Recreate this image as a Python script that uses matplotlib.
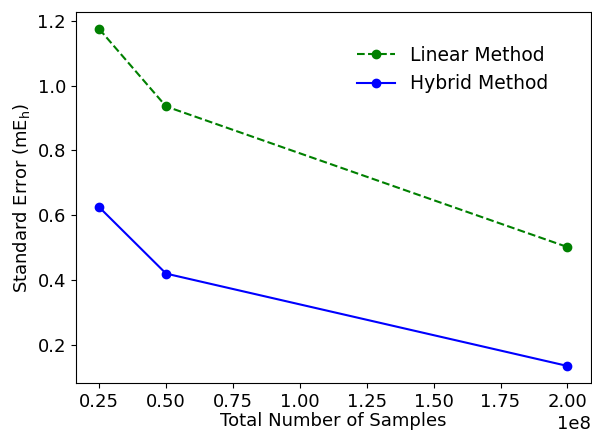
import matplotlib
matplotlib.use("Agg")
import matplotlib.pyplot as plt

samples = [0.25e8, 0.5e8, 2.0e8]
linear_err = [1.175, 0.936, 0.502]
hybrid_err = [0.625, 0.420, 0.135]

plt.rcParams['font.size'] = 13
fig = plt.figure(figsize=(5.92, 4.34), dpi=100)
ax = fig.add_axes([0.128, 0.118, 0.870, 0.854])
ax.plot(samples, linear_err, 'o--', color='green', label='Linear Method')
ax.plot(samples, hybrid_err, 'o-', color='blue', label='Hybrid Method')
ax.set_xlabel('Total Number of Samples', labelpad=1)
ax.set_ylabel(r'Standard Error (mE$_\mathrm{h}$)')
ax.set_yticks([0.2, 0.4, 0.6, 0.8, 1.0, 1.2])
ax.legend(frameon=False, loc='upper right', bbox_to_anchor=(0.95, 0.955),
          prop={'size': 13.5})
fig.savefig('out.png', dpi=100)
